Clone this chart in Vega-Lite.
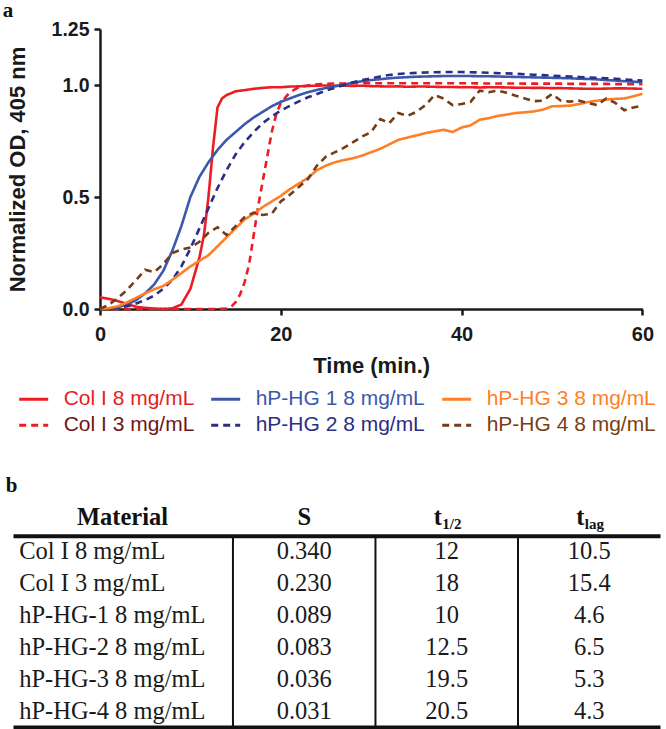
{
  "$schema": "https://vega.github.io/schema/vega-lite/v6.json",
  "padding": {"left": 2, "top": 0, "right": 4, "bottom": 2},
  "bounds": "flush",
  "spacing": 195.5,
  "config": {"font": "Liberation Sans", "view": {"stroke": null}},
  "datasets": {
    "curves": [
      {"t": 0, "a": 0.052, "b": 0.0, "c": 0.0, "d": 0.0, "e": 0.0, "f": 0.0},
      {"t": 1, "a": 0.045, "b": 0.0, "c": 0.003, "d": 0.002, "e": 0.004, "f": 0.02},
      {"t": 2, "a": 0.035, "b": 0.0, "c": 0.008, "d": 0.006, "e": 0.012, "f": 0.05},
      {"t": 3, "a": 0.022, "b": 0.0, "c": 0.02, "d": 0.012, "e": 0.03, "f": 0.085},
      {"t": 4, "a": 0.01, "b": 0.0, "c": 0.04, "d": 0.025, "e": 0.05, "f": 0.13},
      {"t": 5, "a": 0.005, "b": 0.0, "c": 0.07, "d": 0.04, "e": 0.07, "f": 0.175},
      {"t": 6, "a": 0.002, "b": 0.0, "c": 0.11, "d": 0.06, "e": 0.088, "f": 0.165},
      {"t": 7, "a": 0.0, "b": 0.0, "c": 0.17, "d": 0.09, "e": 0.103, "f": 0.2},
      {"t": 8, "a": 0.003, "b": 0.0, "c": 0.26, "d": 0.13, "e": 0.13, "f": 0.25},
      {"t": 9, "a": 0.02, "b": 0.0, "c": 0.37, "d": 0.19, "e": 0.16, "f": 0.265},
      {"t": 10, "a": 0.09, "b": 0.0, "c": 0.5, "d": 0.27, "e": 0.19, "f": 0.275},
      {"t": 11, "a": 0.23, "b": 0.0, "c": 0.59, "d": 0.36, "e": 0.215, "f": 0.3},
      {"t": 12, "a": 0.5, "b": 0.0, "c": 0.655, "d": 0.45, "e": 0.24, "f": 0.34},
      {"t": 13, "a": 0.9, "b": 0.0, "c": 0.71, "d": 0.54, "e": 0.28, "f": 0.365},
      {"t": 14, "a": 0.955, "b": 0.002, "c": 0.755, "d": 0.62, "e": 0.32, "f": 0.33},
      {"t": 15, "a": 0.972, "b": 0.03, "c": 0.79, "d": 0.69, "e": 0.36, "f": 0.37},
      {"t": 16, "a": 0.977, "b": 0.12, "c": 0.825, "d": 0.745, "e": 0.4, "f": 0.41},
      {"t": 17, "a": 0.983, "b": 0.33, "c": 0.855, "d": 0.79, "e": 0.425, "f": 0.43},
      {"t": 18, "a": 0.987, "b": 0.57, "c": 0.88, "d": 0.83, "e": 0.455, "f": 0.42},
      {"t": 19, "a": 0.99, "b": 0.79, "c": 0.905, "d": 0.86, "e": 0.48, "f": 0.425},
      {"t": 20, "a": 0.99, "b": 0.92, "c": 0.925, "d": 0.886, "e": 0.505, "f": 0.48},
      {"t": 21, "a": 0.993, "b": 0.968, "c": 0.94, "d": 0.907, "e": 0.535, "f": 0.51},
      {"t": 22, "a": 0.994, "b": 0.99, "c": 0.955, "d": 0.927, "e": 0.56, "f": 0.545},
      {"t": 23, "a": 0.996, "b": 0.998, "c": 0.968, "d": 0.945, "e": 0.585, "f": 0.58},
      {"t": 24, "a": 0.997, "b": 1.003, "c": 0.978, "d": 0.96, "e": 0.62, "f": 0.64},
      {"t": 25, "a": 0.998, "b": 1.005, "c": 0.987, "d": 0.975, "e": 0.64, "f": 0.68},
      {"t": 26, "a": 0.996, "b": 1.007, "c": 0.995, "d": 0.988, "e": 0.655, "f": 0.7},
      {"t": 27, "a": 0.997, "b": 1.007, "c": 1.002, "d": 1.0, "e": 0.665, "f": 0.72},
      {"t": 28, "a": 0.996, "b": 1.008, "c": 1.01, "d": 1.012, "e": 0.673, "f": 0.745},
      {"t": 29, "a": 0.997, "b": 1.008, "c": 1.017, "d": 1.022, "e": 0.685, "f": 0.77},
      {"t": 30, "a": 0.995, "b": 1.008, "c": 1.022, "d": 1.03, "e": 0.7, "f": 0.79},
      {"t": 31, "a": 0.994, "b": 1.008, "c": 1.026, "d": 1.038, "e": 0.715, "f": 0.848},
      {"t": 32, "a": 0.993, "b": 1.008, "c": 1.03, "d": 1.045, "e": 0.735, "f": 0.83},
      {"t": 33, "a": 0.994, "b": 1.008, "c": 1.033, "d": 1.049, "e": 0.755, "f": 0.875},
      {"t": 34, "a": 0.992, "b": 1.008, "c": 1.035, "d": 1.052, "e": 0.765, "f": 0.862},
      {"t": 35, "a": 0.993, "b": 1.008, "c": 1.037, "d": 1.054, "e": 0.775, "f": 0.88},
      {"t": 36, "a": 0.993, "b": 1.008, "c": 1.038, "d": 1.056, "e": 0.785, "f": 0.91},
      {"t": 37, "a": 0.992, "b": 1.008, "c": 1.039, "d": 1.057, "e": 0.793, "f": 0.955},
      {"t": 38, "a": 0.991, "b": 1.008, "c": 1.04, "d": 1.058, "e": 0.8, "f": 0.94},
      {"t": 39, "a": 0.991, "b": 1.008, "c": 1.04, "d": 1.058, "e": 0.79, "f": 0.91},
      {"t": 40, "a": 0.99, "b": 1.008, "c": 1.04, "d": 1.058, "e": 0.81, "f": 0.915},
      {"t": 41, "a": 0.99, "b": 1.008, "c": 1.04, "d": 1.057, "e": 0.82, "f": 0.925},
      {"t": 42, "a": 0.989, "b": 1.007, "c": 1.039, "d": 1.056, "e": 0.845, "f": 0.975},
      {"t": 43, "a": 0.99, "b": 1.007, "c": 1.039, "d": 1.055, "e": 0.852, "f": 0.968},
      {"t": 44, "a": 0.99, "b": 1.007, "c": 1.038, "d": 1.053, "e": 0.862, "f": 0.975},
      {"t": 45, "a": 0.989, "b": 1.007, "c": 1.037, "d": 1.052, "e": 0.868, "f": 0.965},
      {"t": 46, "a": 0.988, "b": 1.007, "c": 1.036, "d": 1.05, "e": 0.875, "f": 0.952},
      {"t": 47, "a": 0.988, "b": 1.006, "c": 1.035, "d": 1.048, "e": 0.878, "f": 0.94},
      {"t": 48, "a": 0.987, "b": 1.006, "c": 1.034, "d": 1.046, "e": 0.882, "f": 0.928},
      {"t": 49, "a": 0.987, "b": 1.006, "c": 1.033, "d": 1.044, "e": 0.89, "f": 0.93},
      {"t": 50, "a": 0.986, "b": 1.006, "c": 1.032, "d": 1.042, "e": 0.905, "f": 0.96},
      {"t": 51, "a": 0.986, "b": 1.006, "c": 1.031, "d": 1.04, "e": 0.906, "f": 0.93},
      {"t": 52, "a": 0.985, "b": 1.005, "c": 1.03, "d": 1.038, "e": 0.908, "f": 0.926},
      {"t": 53, "a": 0.984, "b": 1.005, "c": 1.028, "d": 1.036, "e": 0.915, "f": 0.93},
      {"t": 54, "a": 0.983, "b": 1.005, "c": 1.027, "d": 1.034, "e": 0.924, "f": 0.92},
      {"t": 55, "a": 0.983, "b": 1.005, "c": 1.025, "d": 1.032, "e": 0.93, "f": 0.91},
      {"t": 56, "a": 0.984, "b": 1.005, "c": 1.022, "d": 1.03, "e": 0.935, "f": 0.94},
      {"t": 57, "a": 0.985, "b": 1.004, "c": 1.02, "d": 1.028, "e": 0.938, "f": 0.92},
      {"t": 58, "a": 0.985, "b": 1.004, "c": 1.017, "d": 1.025, "e": 0.94, "f": 0.887},
      {"t": 59, "a": 0.984, "b": 1.004, "c": 1.015, "d": 1.022, "e": 0.95, "f": 0.9},
      {"t": 60, "a": 0.983, "b": 1.004, "c": 1.012, "d": 1.02, "e": 0.96, "f": 0.908},
      {"t": 11.5, "a": 0.33},
      {"t": 12.5, "a": 0.72},
      {"t": 13.5, "a": 0.94},
      {"t": 14.5, "b": 0.01},
      {"t": 15.5, "b": 0.065},
      {"t": 16.5, "b": 0.2},
      {"t": 17.5, "b": 0.46},
      {"t": 18.5, "b": 0.68},
      {"t": 19.5, "b": 0.87}
    ],
    "table": [
      {"r": 1, "m": "Col I 8 mg/mL", "S": "0.340", "t12": "12", "tlag": "10.5"},
      {"r": 2, "m": "Col I 3 mg/mL", "S": "0.230", "t12": "18", "tlag": "15.4"},
      {"r": 3, "m": "hP-HG-1 8 mg/mL", "S": "0.089", "t12": "10", "tlag": "4.6"},
      {"r": 4, "m": "hP-HG-2 8 mg/mL", "S": "0.083", "t12": "12.5", "tlag": "6.5"},
      {"r": 5, "m": "hP-HG-3 8 mg/mL", "S": "0.036", "t12": "19.5", "tlag": "5.3"},
      {"r": 6, "m": "hP-HG-4 8 mg/mL", "S": "0.031", "t12": "20.5", "tlag": "4.3"}
    ]
  },
  "vconcat": [
    {
      "width": 542.4,
      "height": 280,
      "title": {"text": "a", "anchor": "start", "frame": "group", "orient": "top", "dx": -97.3, "dy": 23.3, "offset": 4, "baseline": "alphabetic", "font": "Liberation Serif", "fontSize": 21, "fontWeight": "bold", "color": "#111111"},
      "data": {"name": "curves"},
      "transform": [
        {"fold": ["a", "b", "c", "d", "e", "f"], "as": ["series", "v"]},
        {"filter": "isValid(datum.v)"}
      ],
      "mark": {"type": "line", "strokeWidth": 2.6, "strokeCap": "butt"},
      "encoding": {
        "x": {
          "field": "t", "type": "quantitative",
          "scale": {"domain": [0, 60], "nice": false, "zero": false},
          "axis": {
            "values": [0, 20, 40, 60], "title": "Time (min.)", "grid": false, "labelFlush": false,
            "domainColor": "#1a1a1a", "domainWidth": 2.5, "tickColor": "#1a1a1a", "tickWidth": 2.5, "tickSize": 6,
            "labelFont": "Liberation Sans", "labelFontSize": 20, "labelFontWeight": "bold", "labelColor": "#1a1a1a", "labelPadding": 9,
            "titleFont": "Liberation Sans", "titleFontSize": 22, "titleFontWeight": "bold", "titleColor": "#1a1a1a", "titlePadding": 12
          }
        },
        "y": {
          "field": "v", "type": "quantitative",
          "scale": {"domain": [0, 1.25], "nice": false},
          "axis": {
            "values": [0, 0.5, 1, 1.25], "labelExpr": "datum.value == 1.25 ? '1.25' : format(datum.value, '.1f')",
            "title": "Normalized OD, 405 nm", "grid": false, "labelOverlap": false,
            "domainColor": "#1a1a1a", "domainWidth": 2.5, "tickColor": "#1a1a1a", "tickWidth": 2.5, "tickSize": 6,
            "labelFont": "Liberation Sans", "labelFontSize": 19.5, "labelFontWeight": "bold", "labelColor": "#1a1a1a", "labelPadding": 5,
            "titleFont": "Liberation Sans", "titleFontSize": 22, "titleFontWeight": "bold", "titleColor": "#1a1a1a", "titlePadding": 22
          }
        },
        "color": {
          "field": "series", "type": "nominal",
          "scale": {"domain": ["a", "c", "e", "b", "d", "f"], "range": ["#ec1c24", "#3b58ad", "#ff7f27", "#ec1c24", "#2b2e83", "#753c15"]},
          "legend": {
            "title": null, "orient": "none", "legendX": -82.3, "legendY": 354.3, "direction": "horizontal", "columns": 3,
            "symbolType": "stroke", "symbolSize": 841, "symbolStrokeWidth": 3,
            "labelFont": "Liberation Sans", "labelFontSize": 21, "labelLimit": 400, "labelOffset": 14,
            "columnPadding": 10, "rowPadding": 0,
            "labelExpr": "datum.label == 'a' ? 'Col I 8 mg/mL' : datum.label == 'b' ? 'Col I 3 mg/mL' : datum.label == 'c' ? 'hP-HG 1 8 mg/mL' : datum.label == 'd' ? 'hP-HG 2 8 mg/mL' : datum.label == 'e' ? 'hP-HG 3 8 mg/mL' : 'hP-HG 4 8 mg/mL'",
            "encode": {"labels": {"update": {"fill": {"signal": "datum.value == 'a' ? '#e31e24' : datum.value == 'b' ? '#6e1517' : datum.value == 'c' ? '#3b58ad' : datum.value == 'd' ? '#2b2e83' : datum.value == 'e' ? '#ff7f27' : '#7a3e14'"}}}}
          }
        },
        "strokeDash": {
          "field": "series", "type": "nominal",
          "scale": {"domain": ["a", "c", "e", "b", "d", "f"], "range": [[1, 0], [1, 0], [1, 0], [7, 5], [7, 5], [7, 5]]}
        }
      }
    },
    {
      "width": 542.4,
      "height": 223,
      "title": {"text": "b", "anchor": "start", "frame": "group", "orient": "top", "dx": -94.3, "dy": 20.3, "offset": 12.2, "baseline": "alphabetic", "font": "Liberation Serif", "fontSize": 21, "fontWeight": "bold", "color": "#111111"},
      "layer": [
        {
          "data": {"name": "table"},
          "mark": {"type": "text", "font": "Liberation Serif", "fontSize": 24.5, "align": "left", "baseline": "middle", "color": "#1a1a1a"},
          "encoding": {
            "x": {"datum": -1, "type": "quantitative", "scale": {"domain": [-0.433, 3.373], "nice": false, "zero": false}, "axis": null},
            "y": {"field": "r", "type": "quantitative", "scale": {"domain": [-0.5, 6.5], "reverse": true, "nice": false, "zero": false}, "axis": null},
            "text": {"field": "m"}
          }
        },
        {
          "data": {"name": "table"},
          "mark": {"type": "text", "font": "Liberation Serif", "fontSize": 24.5, "align": "center", "baseline": "middle", "color": "#1a1a1a"},
          "encoding": {
            "x": {"datum": 1, "type": "quantitative"},
            "y": {"field": "r", "type": "quantitative"},
            "text": {"field": "S"}
          }
        },
        {
          "data": {"name": "table"},
          "mark": {"type": "text", "font": "Liberation Serif", "fontSize": 24.5, "align": "center", "baseline": "middle", "color": "#1a1a1a"},
          "encoding": {
            "x": {"datum": 2, "type": "quantitative"},
            "y": {"field": "r", "type": "quantitative"},
            "text": {"field": "t12"}
          }
        },
        {
          "data": {"name": "table"},
          "mark": {"type": "text", "font": "Liberation Serif", "fontSize": 24.5, "align": "center", "baseline": "middle", "color": "#1a1a1a"},
          "encoding": {
            "x": {"datum": 3, "type": "quantitative"},
            "y": {"field": "r", "type": "quantitative"},
            "text": {"field": "tlag"}
          }
        },
        {
          "data": {"values": [{}]},
          "mark": {"type": "text", "font": "Liberation Serif", "fontSize": 24.5, "fontWeight": "bold", "align": "center", "baseline": "middle", "dy": -2, "color": "#111111"},
          "encoding": {"x": {"datum": -0.275, "type": "quantitative"}, "y": {"datum": 0, "type": "quantitative"}, "text": {"value": "Material"}}
        },
        {
          "data": {"values": [{}]},
          "mark": {"type": "text", "font": "Liberation Serif", "fontSize": 24.5, "fontWeight": "bold", "align": "center", "baseline": "middle", "dy": -2, "color": "#111111"},
          "encoding": {"x": {"datum": 1, "type": "quantitative"}, "y": {"datum": 0, "type": "quantitative"}, "text": {"value": "S"}}
        },
        {
          "data": {"values": [{}]},
          "mark": {"type": "text", "font": "Liberation Serif", "fontSize": 24.5, "fontWeight": "bold", "align": "center", "baseline": "middle", "dx": -9, "dy": -2, "color": "#111111"},
          "encoding": {"x": {"datum": 2, "type": "quantitative"}, "y": {"datum": 0, "type": "quantitative"}, "text": {"value": "t"}}
        },
        {
          "data": {"values": [{}]},
          "mark": {"type": "text", "font": "Liberation Serif", "fontSize": 15, "fontWeight": "bold", "align": "left", "baseline": "middle", "dx": -4.5, "dy": 4, "color": "#111111"},
          "encoding": {"x": {"datum": 2, "type": "quantitative"}, "y": {"datum": 0, "type": "quantitative"}, "text": {"value": "1/2"}}
        },
        {
          "data": {"values": [{}]},
          "mark": {"type": "text", "font": "Liberation Serif", "fontSize": 24.5, "fontWeight": "bold", "align": "center", "baseline": "middle", "dx": -9, "dy": -2, "color": "#111111"},
          "encoding": {"x": {"datum": 3, "type": "quantitative"}, "y": {"datum": 0, "type": "quantitative"}, "text": {"value": "t"}}
        },
        {
          "data": {"values": [{}]},
          "mark": {"type": "text", "font": "Liberation Serif", "fontSize": 15, "fontWeight": "bold", "align": "left", "baseline": "middle", "dx": -4.5, "dy": 4, "color": "#111111"},
          "encoding": {"x": {"datum": 3, "type": "quantitative"}, "y": {"datum": 0, "type": "quantitative"}, "text": {"value": "lag"}}
        },
        {
          "data": {"values": [{}]},
          "mark": {"type": "rule", "strokeWidth": 4, "color": "#111111"},
          "encoding": {"x": {"datum": -1.04, "type": "quantitative"}, "x2": {"datum": 3.5}, "y": {"datum": 0.5, "type": "quantitative"}}
        },
        {
          "data": {"values": [{}]},
          "mark": {"type": "rule", "strokeWidth": 4, "color": "#111111"},
          "encoding": {"x": {"datum": -1.04, "type": "quantitative"}, "x2": {"datum": 3.5}, "y": {"datum": 6.5, "type": "quantitative"}}
        },
        {
          "data": {"values": [{}]},
          "mark": {"type": "rule", "strokeWidth": 2, "color": "#111111"},
          "encoding": {"x": {"datum": 0.5, "type": "quantitative"}, "y": {"datum": 0.5, "type": "quantitative"}, "y2": {"datum": 6.5}}
        },
        {
          "data": {"values": [{}]},
          "mark": {"type": "rule", "strokeWidth": 2, "color": "#111111"},
          "encoding": {"x": {"datum": 1.5, "type": "quantitative"}, "y": {"datum": 0.5, "type": "quantitative"}, "y2": {"datum": 6.5}}
        },
        {
          "data": {"values": [{}]},
          "mark": {"type": "rule", "strokeWidth": 2, "color": "#111111"},
          "encoding": {"x": {"datum": 2.5, "type": "quantitative"}, "y": {"datum": 0.5, "type": "quantitative"}, "y2": {"datum": 6.5}}
        }
      ]
    }
  ]
}
